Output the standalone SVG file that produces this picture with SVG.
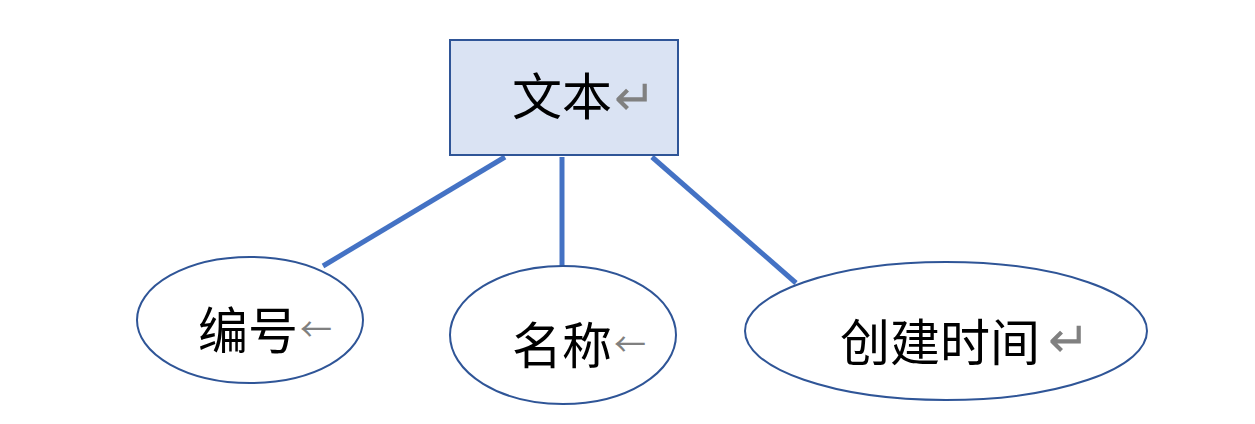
<svg xmlns="http://www.w3.org/2000/svg" width="1255" height="424" viewBox="0 0 1255 424">
<style>
.n{fill:#dae3f3;stroke:#2f5597;stroke-width:2}
.e{fill:#ffffff;stroke:#2f5597;stroke-width:2}
.c{stroke:#4472c4;stroke-width:5;fill:none}
.t{font-family:"Noto Sans CJK SC","Noto Sans",sans-serif;font-size:50px;fill:#000}
.m{fill:#808080;font-size:32px}
.r{fill:#808080;font-size:50px;font-weight:300}
</style>
<rect width="1255" height="424" fill="#ffffff"/>
<g id="connectors">
<line class="c" x1="505" y1="157" x2="323" y2="266"/>
<line class="c" x1="562" y1="157" x2="562" y2="266"/>
<line class="c" x1="652" y1="157" x2="796" y2="283"/>
</g>
<g id="node-text">
<rect class="n" x="450" y="40" width="228" height="115"/>
<text class="t" x="512" y="115">文本<tspan class="r" dx="2" dy="0">↵</tspan></text>
</g>
<g id="node-id">
<ellipse class="e" cx="250" cy="320" rx="113" ry="63"/>
<text class="t" x="198" y="349">编号<tspan class="m" dx="2" dy="-8">←</tspan></text>
</g>
<g id="node-name">
<ellipse class="e" cx="563" cy="335" rx="113" ry="69"/>
<text class="t" x="512" y="364">名称<tspan class="m" dx="2" dy="-8">←</tspan></text>
</g>
<g id="node-time">
<ellipse class="e" cx="946" cy="331" rx="201" ry="69"/>
<text class="t" x="840" y="361">创建时间<tspan class="r" dx="8" dy="-4">↵</tspan></text>
</g>
</svg>
